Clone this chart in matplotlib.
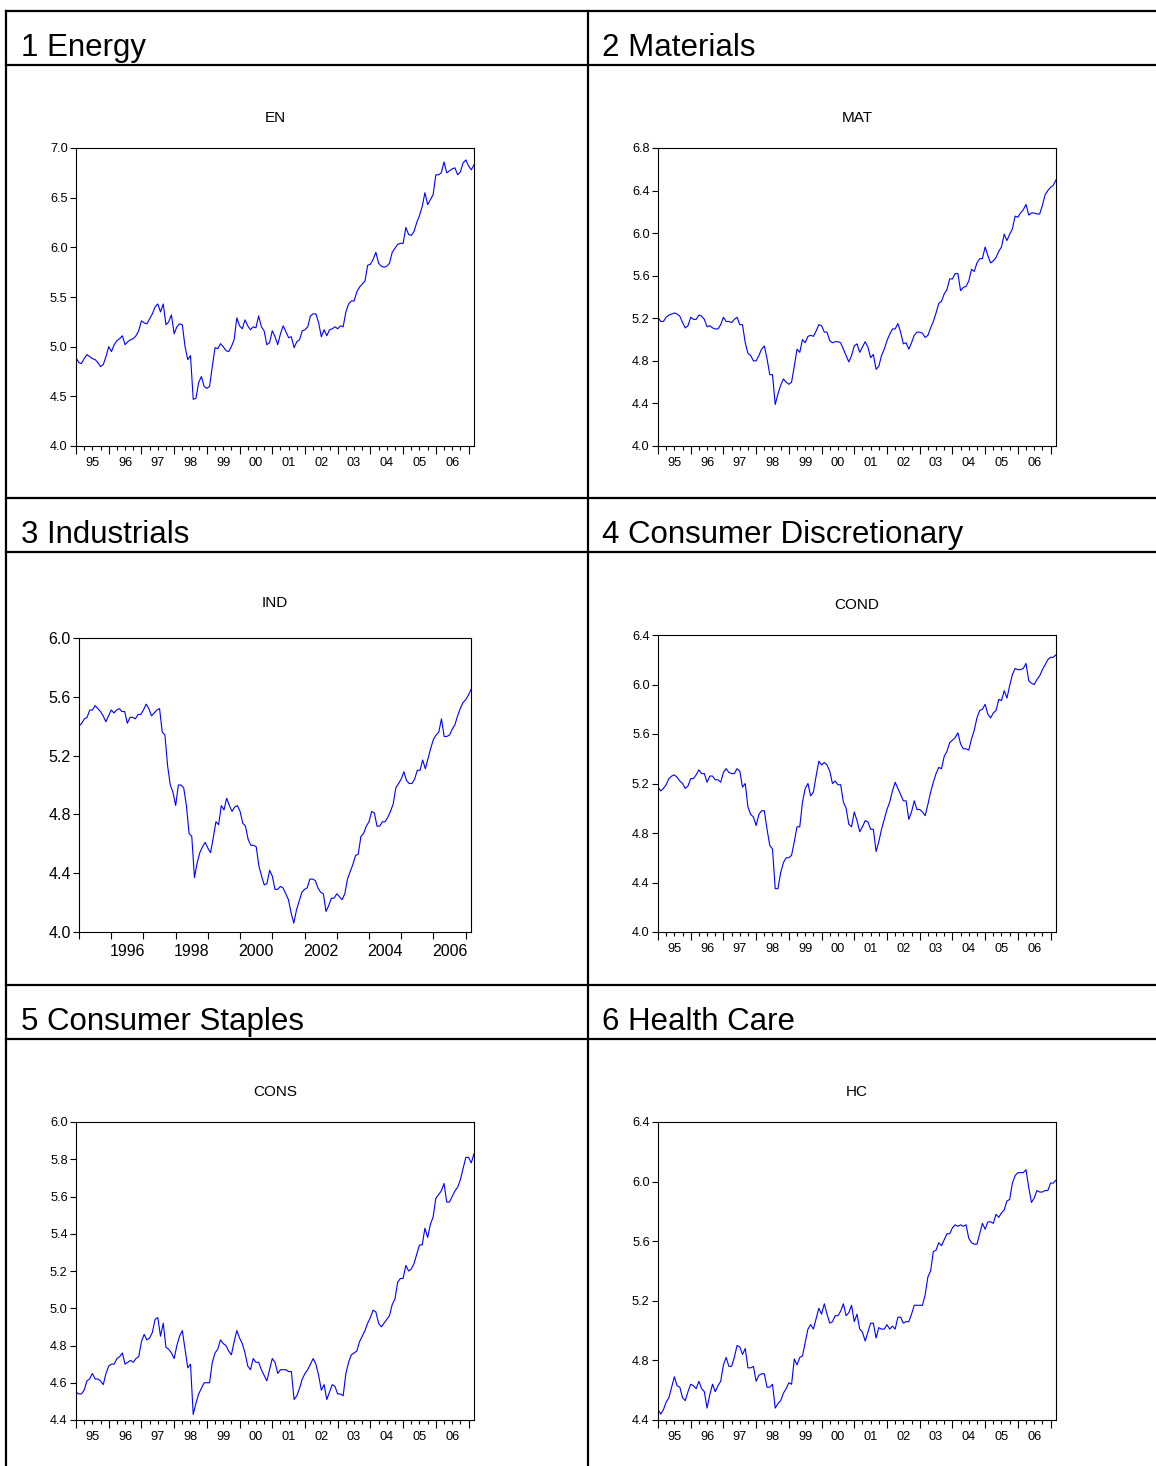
import matplotlib.pyplot as plt
from matplotlib.lines import Line2D
from matplotlib.ticker import FormatStrFormatter

plt.rcParams['font.family'] = ['Liberation Sans', 'DejaVu Sans']

W, H = 1156, 1466

# monthly observations, 1995:01 .. 2007:03
en = [4.89, 4.84, 4.83, 4.88, 4.92, 4.90, 4.88, 4.87, 4.84, 4.80, 4.82, 4.90,
      5.00, 4.95, 5.02, 5.06, 5.08, 5.11, 5.02, 5.05, 5.07, 5.08, 5.11, 5.16,
      5.26, 5.24, 5.23, 5.28, 5.33, 5.40, 5.43, 5.35, 5.43, 5.22, 5.25, 5.32,
      5.13, 5.20, 5.23, 5.22, 5.00, 4.87, 4.91, 4.47, 4.48, 4.64, 4.70, 4.60,
      4.58, 4.60, 4.80, 4.99, 4.98, 5.03, 5.00, 4.96, 4.95, 5.00, 5.07, 5.29,
      5.21, 5.18, 5.27, 5.21, 5.17, 5.20, 5.19, 5.31, 5.20, 5.16, 5.02, 5.04,
      5.16, 5.10, 5.02, 5.13, 5.21, 5.15, 5.09, 5.10, 4.99, 5.05, 5.07, 5.16,
      5.17, 5.20, 5.31, 5.33, 5.33, 5.24, 5.10, 5.17, 5.11, 5.17, 5.18, 5.20,
      5.18, 5.21, 5.20, 5.35, 5.43, 5.46, 5.46, 5.55, 5.60, 5.63, 5.66, 5.82,
      5.83, 5.88, 5.95, 5.84, 5.81, 5.80, 5.81, 5.84, 5.95, 5.99, 6.03, 6.04,
      6.04, 6.20, 6.13, 6.12, 6.16, 6.25, 6.32, 6.41, 6.55, 6.43, 6.48, 6.53,
      6.73, 6.73, 6.75, 6.86, 6.75, 6.77, 6.79, 6.80, 6.73, 6.76, 6.85, 6.88,
      6.82, 6.78, 6.83]

mat = [5.21, 5.17, 5.17, 5.21, 5.23, 5.24, 5.25, 5.24, 5.22, 5.16, 5.11, 5.13,
       5.21, 5.19, 5.19, 5.23, 5.22, 5.19, 5.12, 5.13, 5.11, 5.10, 5.10, 5.14,
       5.21, 5.17, 5.17, 5.16, 5.19, 5.21, 5.14, 5.14, 4.97, 4.87, 4.85, 4.80,
       4.80, 4.85, 4.91, 4.94, 4.82, 4.67, 4.67, 4.39, 4.49, 4.57, 4.63, 4.60,
       4.58, 4.60, 4.75, 4.91, 4.88, 5.00, 4.97, 5.03, 5.04, 5.03, 5.08, 5.14,
       5.13, 5.07, 5.07, 4.99, 4.97, 4.98, 4.98, 4.97, 4.91, 4.85, 4.79, 4.85,
       4.94, 4.96, 4.88, 4.93, 4.98, 4.93, 4.83, 4.86, 4.72, 4.75, 4.85, 4.91,
       4.99, 5.05, 5.10, 5.10, 5.15, 5.07, 4.96, 4.97, 4.91, 4.97, 5.04, 5.07,
       5.07, 5.06, 5.02, 5.04, 5.11, 5.17, 5.25, 5.34, 5.36, 5.43, 5.47, 5.57,
       5.57, 5.62, 5.62, 5.46, 5.49, 5.50, 5.55, 5.66, 5.64, 5.72, 5.76, 5.76,
       5.87, 5.79, 5.72, 5.74, 5.77, 5.83, 5.87, 5.99, 5.93, 5.99, 6.04, 6.16,
       6.15, 6.19, 6.22, 6.27, 6.17, 6.19, 6.19, 6.18, 6.18, 6.26, 6.36, 6.40,
       6.43, 6.45, 6.50]

ind = [5.40, 5.42, 5.45, 5.46, 5.51, 5.51, 5.54, 5.52, 5.50, 5.47, 5.43, 5.47,
       5.51, 5.49, 5.51, 5.52, 5.50, 5.50, 5.42, 5.46, 5.46, 5.45, 5.48, 5.48,
       5.51, 5.55, 5.52, 5.47, 5.49, 5.51, 5.52, 5.36, 5.34, 5.13, 5.00, 4.95,
       4.86, 5.00, 5.00, 4.98, 4.86, 4.67, 4.65, 4.37, 4.47, 4.54, 4.58, 4.61,
       4.57, 4.54, 4.64, 4.75, 4.73, 4.86, 4.83, 4.91, 4.86, 4.82, 4.85, 4.86,
       4.82, 4.74, 4.72, 4.63, 4.59, 4.59, 4.58, 4.45, 4.38, 4.32, 4.33, 4.42,
       4.38, 4.29, 4.29, 4.31, 4.30, 4.26, 4.22, 4.13, 4.06, 4.15, 4.21, 4.27,
       4.29, 4.30, 4.36, 4.36, 4.35, 4.30, 4.27, 4.26, 4.14, 4.18, 4.23, 4.23,
       4.26, 4.24, 4.22, 4.26, 4.36, 4.41, 4.46, 4.52, 4.53, 4.65, 4.67, 4.72,
       4.75, 4.82, 4.81, 4.72, 4.72, 4.75, 4.75, 4.78, 4.82, 4.87, 4.98, 5.01,
       5.04, 5.09, 5.03, 5.01, 5.01, 5.04, 5.10, 5.10, 5.17, 5.11, 5.18, 5.25,
       5.31, 5.34, 5.36, 5.45, 5.33, 5.33, 5.34, 5.38, 5.41, 5.47, 5.52, 5.56,
       5.58, 5.61, 5.65]

cond = [5.17, 5.14, 5.16, 5.19, 5.24, 5.26, 5.27, 5.25, 5.22, 5.20, 5.16, 5.18,
        5.24, 5.24, 5.27, 5.31, 5.28, 5.28, 5.21, 5.26, 5.26, 5.23, 5.23, 5.21,
        5.29, 5.32, 5.29, 5.28, 5.28, 5.32, 5.30, 5.17, 5.20, 5.01, 4.95, 4.93,
        4.86, 4.95, 4.98, 4.98, 4.83, 4.70, 4.67, 4.35, 4.35, 4.48, 4.56, 4.60,
        4.60, 4.62, 4.73, 4.85, 4.85, 5.05, 5.16, 5.20, 5.10, 5.13, 5.26, 5.38,
        5.35, 5.37, 5.35, 5.30, 5.20, 5.22, 5.19, 5.19, 5.05, 5.00, 4.87, 4.85,
        4.97, 4.90, 4.81, 4.85, 4.90, 4.89, 4.83, 4.83, 4.65, 4.73, 4.83, 4.91,
        4.99, 5.05, 5.14, 5.21, 5.16, 5.11, 5.06, 5.06, 4.91, 4.97, 5.06, 4.99,
        4.99, 4.97, 4.94, 5.03, 5.13, 5.21, 5.28, 5.33, 5.32, 5.42, 5.46, 5.53,
        5.55, 5.57, 5.61, 5.52, 5.48, 5.48, 5.47, 5.56, 5.63, 5.73, 5.79, 5.80,
        5.84, 5.76, 5.73, 5.77, 5.79, 5.88, 5.87, 5.95, 5.89, 5.99, 6.08, 6.13,
        6.12, 6.12, 6.13, 6.17, 6.03, 6.01, 6.00, 6.04, 6.07, 6.12, 6.16, 6.20,
        6.22, 6.22, 6.24]

cons = [4.55, 4.54, 4.54, 4.56, 4.61, 4.62, 4.65, 4.62, 4.62, 4.61, 4.59, 4.65,
        4.69, 4.70, 4.70, 4.73, 4.74, 4.76, 4.70, 4.71, 4.72, 4.71, 4.73, 4.74,
        4.82, 4.86, 4.83, 4.84, 4.87, 4.94, 4.95, 4.85, 4.92, 4.79, 4.78, 4.76,
        4.73, 4.80, 4.85, 4.88, 4.78, 4.68, 4.70, 4.43, 4.49, 4.54, 4.57, 4.60,
        4.60, 4.60, 4.71, 4.76, 4.78, 4.83, 4.81, 4.80, 4.77, 4.75, 4.82, 4.88,
        4.84, 4.81, 4.76, 4.69, 4.67, 4.73, 4.71, 4.71, 4.67, 4.64, 4.61, 4.67,
        4.73, 4.71, 4.65, 4.67, 4.67, 4.67, 4.66, 4.66, 4.51, 4.53, 4.57, 4.62,
        4.65, 4.67, 4.70, 4.73, 4.70, 4.64, 4.56, 4.59, 4.51, 4.55, 4.59, 4.58,
        4.54, 4.54, 4.53, 4.65, 4.71, 4.75, 4.76, 4.77, 4.82, 4.85, 4.88, 4.92,
        4.95, 4.99, 4.98, 4.92, 4.90, 4.92, 4.94, 4.96, 5.02, 5.05, 5.14, 5.16,
        5.16, 5.23, 5.20, 5.21, 5.24, 5.29, 5.34, 5.34, 5.43, 5.38, 5.45, 5.49,
        5.59, 5.61, 5.63, 5.67, 5.57, 5.57, 5.60, 5.63, 5.65, 5.69, 5.75, 5.81,
        5.81, 5.78, 5.83]

hc = [4.47, 4.44, 4.47, 4.52, 4.55, 4.62, 4.69, 4.63, 4.62, 4.55, 4.53, 4.59,
      4.64, 4.63, 4.61, 4.66, 4.61, 4.59, 4.48, 4.57, 4.64, 4.59, 4.63, 4.66,
      4.77, 4.82, 4.76, 4.76, 4.82, 4.90, 4.89, 4.84, 4.88, 4.75, 4.75, 4.76,
      4.66, 4.70, 4.71, 4.71, 4.62, 4.62, 4.64, 4.48, 4.51, 4.53, 4.58, 4.61,
      4.65, 4.64, 4.81, 4.77, 4.82, 4.83, 4.92, 5.01, 5.04, 5.01, 5.08, 5.15,
      5.11, 5.18, 5.11, 5.05, 5.06, 5.10, 5.10, 5.13, 5.18, 5.10, 5.12, 5.17,
      5.06, 5.11, 5.01, 4.99, 4.93, 4.99, 5.05, 5.05, 4.95, 5.02, 5.01, 5.01,
      5.04, 5.01, 5.03, 5.01, 5.09, 5.09, 5.05, 5.06, 5.06, 5.11, 5.17, 5.17,
      5.17, 5.17, 5.24, 5.36, 5.40, 5.53, 5.54, 5.59, 5.57, 5.61, 5.65, 5.65,
      5.69, 5.71, 5.70, 5.71, 5.70, 5.71, 5.62, 5.59, 5.58, 5.58, 5.65, 5.72,
      5.68, 5.73, 5.73, 5.72, 5.78, 5.76, 5.79, 5.81, 5.87, 5.88, 5.99, 6.04,
      6.06, 6.06, 6.06, 6.08, 5.96, 5.86, 5.89, 5.94, 5.93, 5.93, 5.94, 5.94,
      5.99, 5.99, 6.01]

headers = ['1 Energy', '2 Materials', '3 Industrials',
           '4 Consumer Discretionary', '5 Consumer Staples', '6 Health Care']
titles = ['EN', 'MAT', 'IND', 'COND', 'CONS', 'HC']
series = [en, mat, ind, cond, cons, hc]
yticks = [[4.0, 4.5, 5.0, 5.5, 6.0, 6.5, 7.0],
          [4.0, 4.4, 4.8, 5.2, 5.6, 6.0, 6.4, 6.8],
          [4.0, 4.4, 4.8, 5.2, 5.6, 6.0],
          [4.0, 4.4, 4.8, 5.2, 5.6, 6.0, 6.4],
          [4.4, 4.6, 4.8, 5.0, 5.2, 5.4, 5.6, 5.8, 6.0],
          [4.4, 4.8, 5.2, 5.6, 6.0, 6.4]]

# pixel boxes (left, top, right, bottom) of each plot area
boxes = [(76, 148, 474, 446), (658, 148, 1056, 446),
         (79, 638, 471, 932), (658, 635, 1056, 932),
         (76, 1122, 474, 1420), (658, 1122, 1056, 1420)]
title_y = [118, 118, 603, 605, 1092, 1092]


def fx(x):
    return x / W


def fy(y):
    return 1 - y / H


fig = plt.figure(figsize=(W / 100, H / 100), dpi=100)

# table frame
for x in (6, 588):
    fig.add_artist(Line2D([fx(x), fx(x)], [fy(11), 0], transform=fig.transFigure,
                          color='black', lw=1.6))
for y in (11, 65, 498, 552, 985, 1039):
    fig.add_artist(Line2D([fx(6), 1], [fy(y), fy(y)], transform=fig.transFigure,
                          color='black', lw=1.6))

header_base = [56, 56, 543, 543, 1030, 1030]
for i, text in enumerate(headers):
    x0 = 21 if i % 2 == 0 else 602
    fig.text(fx(x0), fy(header_base[i]), text, fontsize=22.5, va='baseline', ha='left')

months = list(range(147))

for i, vals in enumerate(series):
    l, t, r, b = boxes[i]
    ax = fig.add_axes([fx(l), fy(b), fx(r - l), (b - t) / H])
    ax.plot(months, vals, color='#0000ff', lw=0.8)
    ax.set_xlim(0, 146)
    ax.set_ylim(yticks[i][0], yticks[i][-1])
    for s in ax.spines.values():
        s.set_linewidth(0.8)

    big = titles[i] == 'IND'
    fs = 11.5 if big else 9.2
    ax.set_yticks(yticks[i])
    ax.yaxis.set_major_formatter(FormatStrFormatter('%.1f'))
    ax.tick_params(axis='y', direction='out', length=4, width=0.8, labelsize=fs, pad=2)

    year_pos = list(range(0, 147, 12))
    ax.set_xticks(year_pos)
    ax.set_xticklabels([])
    if big:
        lab_pos = [m for m in range(18, 147, 24)]
        ax.set_xticks(lab_pos, [str(1995 + m // 12) for m in lab_pos], minor=True)
        ax.tick_params(axis='x', which='major', direction='out', length=5, width=0.8)
        ax.tick_params(axis='x', which='minor', length=0, labelsize=fs, pad=9)
    else:
        q_pos = [m for m in range(3, 147, 3) if m % 12]
        q_lab = ['%02d' % ((95 + m // 12) % 100) if m % 12 == 6 else '' for m in q_pos]
        ax.set_xticks(q_pos, q_lab, minor=True)
        ax.tick_params(axis='x', which='major', direction='out', length=6, width=0.8)
        ax.tick_params(axis='x', which='minor', direction='out', length=3, width=0.8,
                       labelsize=fs, pad=5)

    fig.text(fx((l + r) / 2), fy(title_y[i]), titles[i], fontsize=11,
             ha='center', va='center')

fig.savefig('out.png', dpi=100)
